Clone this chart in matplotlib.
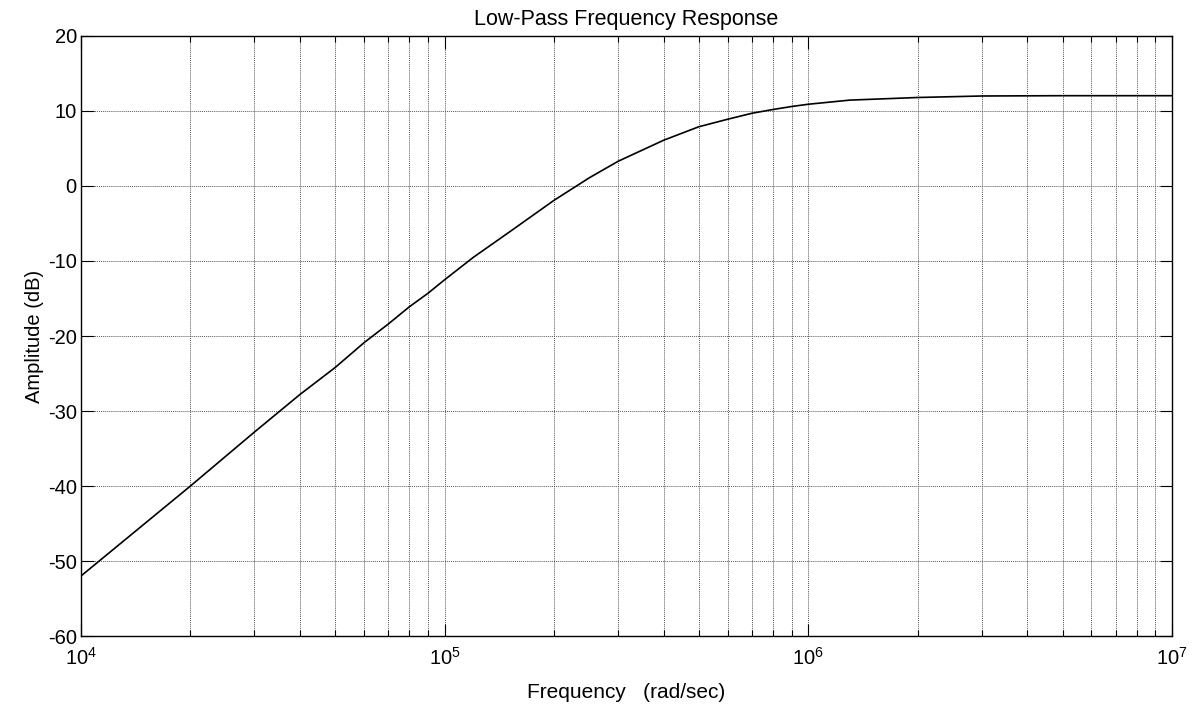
import matplotlib
matplotlib.use("Agg")
import matplotlib.pyplot as plt
from matplotlib.ticker import LogLocator, FixedLocator, NullFormatter

plt.rcParams['font.family'] = ['Liberation Sans', 'DejaVu Sans']
plt.rcParams['mathtext.fontset'] = 'custom'
plt.rcParams['mathtext.rm'] = 'Liberation Sans'
plt.rcParams['mathtext.it'] = 'Liberation Sans'
plt.rcParams['axes.unicode_minus'] = False

# Data (rad/sec, dB)
freq = [1e4, 2e4, 3e4, 4e4, 5e4, 6e4, 7e4, 8e4, 9e4, 1e5,
        1.2e5, 1.5e5, 2e5, 2.5e5, 3e5, 4e5, 5e5, 6e5, 7e5, 8e5, 9e5,
        1e6, 1.3e6, 2e6, 3e6, 5e6, 1e7]
amp_db = [-52.0, -40.0, -32.8, -27.8, -24.2, -20.9, -18.4, -16.1, -14.3, -12.5,
          -9.5, -6.2, -1.9, 1.1, 3.3, 6.1, 7.9, 8.9, 9.7, 10.2, 10.6,
          10.9, 11.45, 11.8, 12.0, 12.04, 12.04]

y_ticks = [-60, -50, -40, -30, -20, -10, 0, 10, 20]

fig = plt.figure(figsize=(12.01, 7.07), dpi=100)
ax = fig.add_axes([0.0674, 0.1004, 0.9085, 0.8487])

ax.semilogx(freq, amp_db, color='black', lw=1.2)
ax.set_xlim(1e4, 1e7)
ax.set_ylim(-60, 20)

ax.xaxis.set_major_locator(LogLocator(base=10, numticks=10))
ax.xaxis.set_minor_locator(LogLocator(base=10, subs=range(2, 10), numticks=50))
ax.xaxis.set_minor_formatter(NullFormatter())
ax.yaxis.set_major_locator(FixedLocator(y_ticks))

ax.grid(True, which='major', axis='both', linestyle=(0, (1, 1)), color='0.35', lw=0.7)
ax.grid(True, which='minor', axis='x', linestyle=(0, (1, 1)), color='0.35', lw=0.7)

ax.tick_params(which='both', direction='in', top=True, right=True,
               labelsize=14.5, colors='black')
ax.tick_params(axis='y', which='major', length=9, width=0.8, pad=3)
ax.tick_params(axis='x', which='major', length=9, width=0.8, pad=8)
ax.tick_params(which='minor', length=4, width=0.8)
for s in ax.spines.values():
    s.set_linewidth(1.0)
    s.set_color('black')

ax.set_title('Low-Pass Frequency Response', fontsize=15.5, pad=8)
ax.set_xlabel('Frequency   (rad/sec)', fontsize=15, labelpad=10)
ax.set_ylabel('Amplitude (dB)', fontsize=14.5, labelpad=3)

fig.savefig('out.png', dpi=100, facecolor='white')
